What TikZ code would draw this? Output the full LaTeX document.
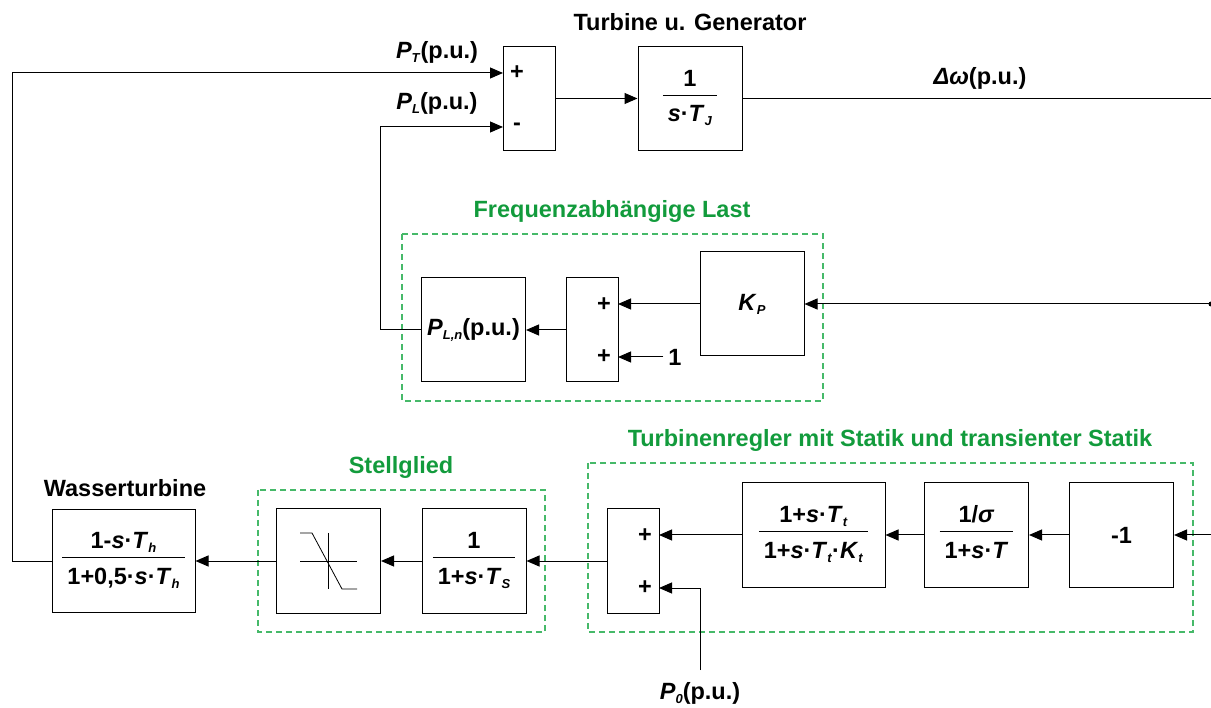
\documentclass[tikz,border=0pt]{standalone}
\usepackage{fontspec}
\setmainfont{Liberation Sans}
\usetikzlibrary{arrows.meta,calc}
\definecolor{txtgreen}{RGB}{18,155,60}
\definecolor{dashgreen}{RGB}{70,185,105}
\newcommand{\fr}[2]{\begin{tabular}{@{\hspace{5pt}}c@{\hspace{5pt}}}#1\\\hline\rule{0pt}{27pt}#2\end{tabular}}
\newcommand{\sub}[1]{\raisebox{-4pt}{\fontsize{13}{15}\selectfont\textit{#1}}}
\tikzset{
 blk/.style={draw, line width=1pt, minimum width=104pt, minimum height=104pt, inner sep=0pt},
 sumblk/.style={blk, minimum width=52pt},
 wideblk/.style={blk, minimum width=143pt},
 lbl/.style={inner sep=0pt},
 arr/.style={line width=1pt, -{Triangle[length=13pt,width=11pt]}},
 ln/.style={line width=1pt},
 grp/.style={draw=dashgreen, dash pattern=on 6pt off 4pt, line width=1.2pt},
 grplbl/.style={text=txtgreen, inner sep=0pt},
}
\begin{document}
\begin{tikzpicture}[x=1pt,y=-1pt,font=\fontsize{23.5}{28}\selectfont\bfseries]
\useasboundingbox (0,0) rectangle (1211,708);
% ---- top: turbine and generator
\node[sumblk] (sum1) at (529,98.5) {};
\node[lbl] (s1p) at (517,73) {+};
\node[lbl] (s1m) at (517,127) {-};
\node[blk] (tj) at (690,98.5) {\fr{1}{\textit{s}·\textit{T}\sub{J}}};
\node[lbl] (ttl) at (690,22) {Turbine u. Generator};
\node[lbl] (ptl) at (437,52) {\textit{P}\sub{T}(p.u.)};
\node[lbl] (pll) at (437,103) {\textit{P}\sub{L}(p.u.)};
\node[lbl] (dwl) at (980,78) {\textit{Δω}(p.u.)};
\coordinate (s1in1) at (503,73);
\coordinate (s1in2) at (503,127);
\coordinate (dwout) at (1211,98.5);
% ---- frequency dependent load
\draw[grp] (402,234) rectangle (823,401);
\node[grplbl] (fl) at (612,211) {Frequenzabhängige Last};
\node[blk] (pln) at (473.5,330) {\textit{P}\sub{L,n}(p.u.)};
\node[sumblk] (sum2) at (592,330) {};
\node[lbl] (s2p1) at (604,305) {+};
\node[lbl] (s2p2) at (604,357) {+};
\node[blk] (kp) at (752,304) {\textit{K}\sub{P}};
\node[lbl] (one) at (675,357) {1};
\coordinate (s2in1) at (618,304);
\coordinate (s2in2) at (618,357);
\coordinate (kpin) at (1211,304);
% ---- bottom row
\node[wideblk, minimum height=103pt] (wt) at (123.5,561) {\fr{1-\textit{s}·\textit{T}\sub{h}}{1+0,5·\textit{s}·\textit{T}\sub{h}}};
\node[lbl] (wtl) at (125,488) {Wasserturbine};
\draw[grp] (258,490) rectangle (545,632);
\node[grplbl] (sgl) at (401,467) {Stellglied};
\node[blk] (sat) at (328.5,561) {};
\draw[line width=0.8pt] (300,561.5) -- (357,561.5) (328.5,533) -- (328.5,589);
\draw[line width=0.8pt] (300,533) -- (312,533) -- (342,589) -- (357,589);
\node[blk] (ts) at (474,561) {\fr{1}{1+\textit{s}·\textit{T}\sub{S}}};
\draw[grp] (588,463) rectangle (1193,632);
\node[grplbl] (trl) at (890,440) {Turbinenregler mit Statik und transienter Statik};
\node[sumblk] (sum3) at (633,561) {};
\node[lbl] (s3p1) at (645,536) {+};
\node[lbl] (s3p2) at (645,588) {+};
\node[wideblk] (tt) at (813.5,535) {\fr{1+\textit{s}·\textit{T}\sub{t}}{1+\textit{s}·\textit{T}\sub{t}·\textit{K}\sub{t}}};
\node[blk] (sig) at (976.5,535) {\fr{1/\textit{σ}}{1+\textit{s}·\textit{T}}};
\node[blk] (m1) at (1121.5,535) {-1};
\node[lbl] (p0l) at (700,693) {\textit{P}\sub{0}(p.u.)};
\coordinate (s3in1) at (659,535);
\coordinate (s3in2) at (659,588);
\coordinate (p0top) at (700,670);
\coordinate (m1in) at (1211,535);
% ---- connectors
\draw[arr] (wt.west) -- (12,561) |- (s1in1);
\draw[arr] (pln.west) -- (380,330) |- (s1in2);
\draw[arr] (sum1.east) -- (tj.west);
\draw[ln] (tj.east) -- (dwout);
\draw[arr] (kpin) -- (kp.east);
\fill (kpin) circle (2.5);
\draw[arr] (kp.west) -- (s2in1);
\draw[arr] (one.west) ++(-5,0) -- (s2in2);
\draw[arr] (sum2.west) -- (pln.east);
\draw[arr] (m1in) -- (m1.east);
\draw[arr] (m1.west) -- (sig.east);
\draw[arr] (sig.west) -- (tt.east);
\draw[arr] (tt.west) -- (s3in1);
\draw[arr] (p0top) |- (s3in2);
\draw[arr] (sum3.west) -- (ts.east);
\draw[arr] (ts.west) -- (sat.east);
\draw[arr] (sat.west) -- (wt.east);
\end{tikzpicture}
\end{document}
